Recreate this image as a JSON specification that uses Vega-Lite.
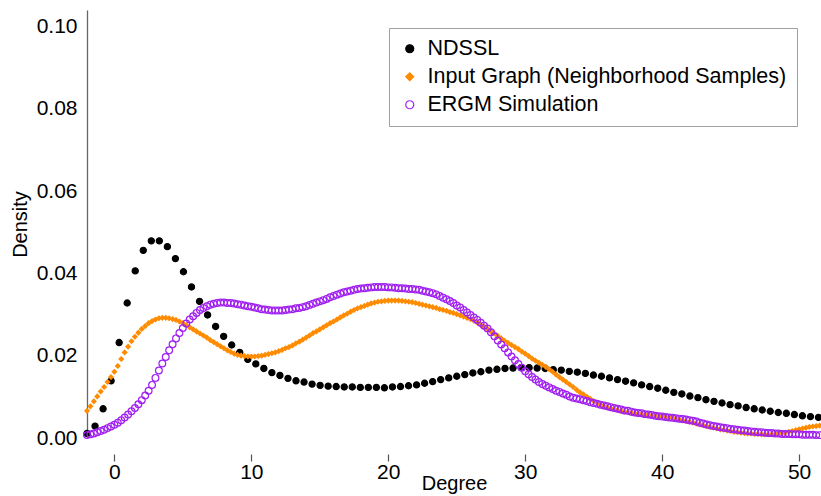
{
  "$schema": "https://vega.github.io/schema/vega-lite/v6.json",
  "autosize": {"type": "none"},
  "padding": {"left": 87, "top": 10, "right": 0, "bottom": 58},
  "width": 734,
  "height": 428,
  "background": "white",
  "datasets": {
    "nd": [
      {"x":-2.000,"y":0.0011},{"x":-1.413,"y":0.0029},{"x":-0.826,"y":0.0071},{"x":-0.239,"y":0.0139},{"x":0.348,"y":0.0232},{"x":0.935,"y":0.0328},{"x":1.522,"y":0.0406},{"x":2.109,"y":0.0456},{"x":2.696,"y":0.0479},{"x":3.283,"y":0.0479},
      {"x":3.870,"y":0.0465},{"x":4.457,"y":0.0436},{"x":5.044,"y":0.0404},{"x":5.631,"y":0.0367},{"x":6.218,"y":0.0332},{"x":6.805,"y":0.0299},{"x":7.392,"y":0.0271},{"x":7.979,"y":0.0247},{"x":8.566,"y":0.0226},{"x":9.153,"y":0.0208},
      {"x":9.740,"y":0.0191},{"x":10.327,"y":0.0180},{"x":10.914,"y":0.0169},{"x":11.501,"y":0.0159},{"x":12.088,"y":0.0152},{"x":12.675,"y":0.0145},{"x":13.262,"y":0.0139},{"x":13.849,"y":0.0136},{"x":14.436,"y":0.0131},{"x":15.023,"y":0.0128},
      {"x":15.610,"y":0.0126},{"x":16.197,"y":0.0125},{"x":16.784,"y":0.0124},{"x":17.371,"y":0.0124},{"x":17.958,"y":0.0123},{"x":18.545,"y":0.0123},{"x":19.132,"y":0.0123},{"x":19.719,"y":0.0122},{"x":20.306,"y":0.0124},{"x":20.893,"y":0.0125},
      {"x":21.480,"y":0.0127},{"x":22.067,"y":0.0129},{"x":22.654,"y":0.0133},{"x":23.241,"y":0.0137},{"x":23.828,"y":0.0142},{"x":24.415,"y":0.0146},{"x":25.002,"y":0.0150},{"x":25.589,"y":0.0154},{"x":26.176,"y":0.0158},{"x":26.763,"y":0.0161},
      {"x":27.350,"y":0.0165},{"x":27.937,"y":0.0167},{"x":28.524,"y":0.0169},{"x":29.111,"y":0.0170},{"x":29.698,"y":0.0171},{"x":30.285,"y":0.0171},{"x":30.872,"y":0.0170},{"x":31.459,"y":0.0169},{"x":32.046,"y":0.0166},{"x":32.633,"y":0.0165},
      {"x":33.220,"y":0.0162},{"x":33.807,"y":0.0160},{"x":34.394,"y":0.0157},{"x":34.981,"y":0.0153},{"x":35.568,"y":0.0150},{"x":36.155,"y":0.0146},{"x":36.742,"y":0.0142},{"x":37.329,"y":0.0138},{"x":37.916,"y":0.0134},{"x":38.503,"y":0.0129},
      {"x":39.090,"y":0.0125},{"x":39.677,"y":0.0121},{"x":40.264,"y":0.0116},{"x":40.851,"y":0.0111},{"x":41.438,"y":0.0107},{"x":42.025,"y":0.0102},{"x":42.612,"y":0.0098},{"x":43.199,"y":0.0093},{"x":43.786,"y":0.0089},{"x":44.373,"y":0.0085},
      {"x":44.960,"y":0.0081},{"x":45.547,"y":0.0078},{"x":46.134,"y":0.0074},{"x":46.721,"y":0.0071},{"x":47.308,"y":0.0068},{"x":47.895,"y":0.0065},{"x":48.482,"y":0.0062},{"x":49.069,"y":0.0060},{"x":49.656,"y":0.0057},{"x":50.243,"y":0.0054},
      {"x":50.830,"y":0.0052},{"x":51.417,"y":0.0050}
    ],
    "ig": [
      {"x":-2.00,"y":0.0066},{"x":-1.75,"y":0.0077},{"x":-1.50,"y":0.0089},{"x":-1.25,"y":0.0101},{"x":-1.00,"y":0.0113},{"x":-0.75,"y":0.0124},{"x":-0.50,"y":0.0136},{"x":-0.25,"y":0.0148},
      {"x":0.00,"y":0.0161},{"x":0.25,"y":0.0175},{"x":0.50,"y":0.0192},{"x":0.75,"y":0.0208},{"x":1.00,"y":0.0222},{"x":1.25,"y":0.0235},{"x":1.50,"y":0.0246},{"x":1.75,"y":0.0256},
      {"x":2.00,"y":0.0265},{"x":2.25,"y":0.0272},{"x":2.50,"y":0.0279},{"x":2.75,"y":0.0284},{"x":3.00,"y":0.0288},{"x":3.25,"y":0.0291},{"x":3.50,"y":0.0292},{"x":3.75,"y":0.0292},
      {"x":4.00,"y":0.0291},{"x":4.25,"y":0.0289},{"x":4.50,"y":0.0287},{"x":4.75,"y":0.0283},{"x":5.00,"y":0.0279},{"x":5.25,"y":0.0274},{"x":5.50,"y":0.0269},{"x":5.75,"y":0.0264},
      {"x":6.00,"y":0.0259},{"x":6.25,"y":0.0254},{"x":6.50,"y":0.0249},{"x":6.75,"y":0.0244},{"x":7.00,"y":0.0238},{"x":7.25,"y":0.0233},{"x":7.50,"y":0.0228},{"x":7.75,"y":0.0223},
      {"x":8.00,"y":0.0218},{"x":8.25,"y":0.0213},{"x":8.50,"y":0.0209},{"x":8.75,"y":0.0205},{"x":9.00,"y":0.0202},{"x":9.25,"y":0.0200},{"x":9.50,"y":0.0199},{"x":9.75,"y":0.0198},
      {"x":10.00,"y":0.0198},{"x":10.25,"y":0.0198},{"x":10.50,"y":0.0199},{"x":10.75,"y":0.0200},{"x":11.00,"y":0.0202},{"x":11.25,"y":0.0204},{"x":11.50,"y":0.0206},{"x":11.75,"y":0.0208},
      {"x":12.00,"y":0.0211},{"x":12.25,"y":0.0214},{"x":12.50,"y":0.0218},{"x":12.75,"y":0.0221},{"x":13.00,"y":0.0225},{"x":13.25,"y":0.0230},{"x":13.50,"y":0.0234},{"x":13.75,"y":0.0239},
      {"x":14.00,"y":0.0244},{"x":14.25,"y":0.0249},{"x":14.50,"y":0.0255},{"x":14.75,"y":0.0259},{"x":15.00,"y":0.0264},{"x":15.25,"y":0.0269},{"x":15.50,"y":0.0274},{"x":15.75,"y":0.0279},
      {"x":16.00,"y":0.0283},{"x":16.25,"y":0.0288},{"x":16.50,"y":0.0293},{"x":16.75,"y":0.0298},{"x":17.00,"y":0.0302},{"x":17.25,"y":0.0307},{"x":17.50,"y":0.0311},{"x":17.75,"y":0.0315},
      {"x":18.00,"y":0.0318},{"x":18.25,"y":0.0321},{"x":18.50,"y":0.0324},{"x":18.75,"y":0.0327},{"x":19.00,"y":0.0329},{"x":19.25,"y":0.0331},{"x":19.50,"y":0.0332},{"x":19.75,"y":0.0333},
      {"x":20.00,"y":0.0334},{"x":20.25,"y":0.0334},{"x":20.50,"y":0.0334},{"x":20.75,"y":0.0334},{"x":21.00,"y":0.0333},{"x":21.25,"y":0.0332},{"x":21.50,"y":0.0331},{"x":21.75,"y":0.0330},
      {"x":22.00,"y":0.0328},{"x":22.25,"y":0.0326},{"x":22.50,"y":0.0324},{"x":22.75,"y":0.0322},{"x":23.00,"y":0.0320},{"x":23.25,"y":0.0318},{"x":23.50,"y":0.0316},{"x":23.75,"y":0.0313},
      {"x":24.00,"y":0.0311},{"x":24.25,"y":0.0309},{"x":24.50,"y":0.0306},{"x":24.75,"y":0.0304},{"x":25.00,"y":0.0301},{"x":25.25,"y":0.0298},{"x":25.50,"y":0.0295},{"x":25.75,"y":0.0292},
      {"x":26.00,"y":0.0289},{"x":26.25,"y":0.0285},{"x":26.50,"y":0.0280},{"x":26.75,"y":0.0275},{"x":27.00,"y":0.0270},{"x":27.25,"y":0.0265},{"x":27.50,"y":0.0259},{"x":27.75,"y":0.0254},
      {"x":28.00,"y":0.0248},{"x":28.25,"y":0.0242},{"x":28.50,"y":0.0236},{"x":28.75,"y":0.0231},{"x":29.00,"y":0.0226},{"x":29.25,"y":0.0221},{"x":29.50,"y":0.0216},{"x":29.75,"y":0.0210},
      {"x":30.00,"y":0.0205},{"x":30.25,"y":0.0199},{"x":30.50,"y":0.0193},{"x":30.75,"y":0.0188},{"x":31.00,"y":0.0183},{"x":31.25,"y":0.0178},{"x":31.50,"y":0.0173},{"x":31.75,"y":0.0167},
      {"x":32.00,"y":0.0161},{"x":32.25,"y":0.0154},{"x":32.50,"y":0.0148},{"x":32.75,"y":0.0142},{"x":33.00,"y":0.0136},{"x":33.25,"y":0.0130},{"x":33.50,"y":0.0124},{"x":33.75,"y":0.0117},
      {"x":34.00,"y":0.0111},{"x":34.25,"y":0.0106},{"x":34.50,"y":0.0100},{"x":34.75,"y":0.0095},{"x":35.00,"y":0.0090},{"x":35.25,"y":0.0085},{"x":35.50,"y":0.0081},{"x":35.75,"y":0.0077},
      {"x":36.00,"y":0.0074},{"x":36.25,"y":0.0072},{"x":36.50,"y":0.0070},{"x":36.75,"y":0.0068},{"x":37.00,"y":0.0066},{"x":37.25,"y":0.0064},{"x":37.50,"y":0.0063},{"x":37.75,"y":0.0061},
      {"x":38.00,"y":0.0060},{"x":38.25,"y":0.0059},{"x":38.50,"y":0.0058},{"x":38.75,"y":0.0057},{"x":39.00,"y":0.0056},{"x":39.25,"y":0.0055},{"x":39.50,"y":0.0054},{"x":39.75,"y":0.0053},
      {"x":40.00,"y":0.0052},{"x":40.25,"y":0.0051},{"x":40.50,"y":0.0050},{"x":40.75,"y":0.0049},{"x":41.00,"y":0.0047},{"x":41.25,"y":0.0045},{"x":41.50,"y":0.0043},{"x":41.75,"y":0.0041},
      {"x":42.00,"y":0.0039},{"x":42.25,"y":0.0037},{"x":42.50,"y":0.0035},{"x":42.75,"y":0.0033},{"x":43.00,"y":0.0031},{"x":43.25,"y":0.0029},{"x":43.50,"y":0.0027},{"x":43.75,"y":0.0025},
      {"x":44.00,"y":0.0023},{"x":44.25,"y":0.0021},{"x":44.50,"y":0.0020},{"x":44.75,"y":0.0018},{"x":45.00,"y":0.0017},{"x":45.25,"y":0.0015},{"x":45.50,"y":0.0014},{"x":45.75,"y":0.0013},
      {"x":46.00,"y":0.0012},{"x":46.25,"y":0.0011},{"x":46.50,"y":0.0011},{"x":46.75,"y":0.0010},{"x":47.00,"y":0.0010},{"x":47.25,"y":0.0009},{"x":47.50,"y":0.0009},{"x":47.75,"y":0.0009},
      {"x":48.00,"y":0.0009},{"x":48.25,"y":0.0010},{"x":48.50,"y":0.0011},{"x":48.75,"y":0.0012},{"x":49.00,"y":0.0013},{"x":49.25,"y":0.0015},{"x":49.50,"y":0.0017},{"x":49.75,"y":0.0019},
      {"x":50.00,"y":0.0021},{"x":50.25,"y":0.0023},{"x":50.50,"y":0.0025},{"x":50.75,"y":0.0027},{"x":51.00,"y":0.0028},{"x":51.25,"y":0.0029},{"x":51.50,"y":0.0030}
    ],
    "eg": [
      {"x":-2.00,"y":0.0007},{"x":-1.75,"y":0.0009},{"x":-1.50,"y":0.0011},{"x":-1.25,"y":0.0014},{"x":-1.00,"y":0.0017},{"x":-0.75,"y":0.0020},{"x":-0.50,"y":0.0024},{"x":-0.25,"y":0.0028},
      {"x":0.00,"y":0.0032},{"x":0.25,"y":0.0037},{"x":0.50,"y":0.0043},{"x":0.75,"y":0.0050},{"x":1.00,"y":0.0057},{"x":1.25,"y":0.0065},{"x":1.50,"y":0.0073},{"x":1.75,"y":0.0082},
      {"x":2.00,"y":0.0092},{"x":2.25,"y":0.0103},{"x":2.50,"y":0.0115},{"x":2.75,"y":0.0129},{"x":3.00,"y":0.0146},{"x":3.25,"y":0.0164},{"x":3.50,"y":0.0181},{"x":3.75,"y":0.0197},
      {"x":4.00,"y":0.0213},{"x":4.25,"y":0.0228},{"x":4.50,"y":0.0242},{"x":4.75,"y":0.0255},{"x":5.00,"y":0.0267},{"x":5.25,"y":0.0278},{"x":5.50,"y":0.0288},{"x":5.75,"y":0.0296},
      {"x":6.00,"y":0.0304},{"x":6.25,"y":0.0311},{"x":6.50,"y":0.0316},{"x":6.75,"y":0.0320},{"x":7.00,"y":0.0324},{"x":7.25,"y":0.0326},{"x":7.50,"y":0.0328},{"x":7.75,"y":0.0329},
      {"x":8.00,"y":0.0329},{"x":8.25,"y":0.0328},{"x":8.50,"y":0.0328},{"x":8.75,"y":0.0327},{"x":9.00,"y":0.0325},{"x":9.25,"y":0.0324},{"x":9.50,"y":0.0322},{"x":9.75,"y":0.0320},
      {"x":10.00,"y":0.0319},{"x":10.25,"y":0.0317},{"x":10.50,"y":0.0315},{"x":10.75,"y":0.0313},{"x":11.00,"y":0.0312},{"x":11.25,"y":0.0311},{"x":11.50,"y":0.0310},{"x":11.75,"y":0.0310},
      {"x":12.00,"y":0.0310},{"x":12.25,"y":0.0310},{"x":12.50,"y":0.0311},{"x":12.75,"y":0.0312},{"x":13.00,"y":0.0313},{"x":13.25,"y":0.0315},{"x":13.50,"y":0.0316},{"x":13.75,"y":0.0318},
      {"x":14.00,"y":0.0320},{"x":14.25,"y":0.0323},{"x":14.50,"y":0.0326},{"x":14.75,"y":0.0329},{"x":15.00,"y":0.0332},{"x":15.25,"y":0.0335},{"x":15.50,"y":0.0338},{"x":15.75,"y":0.0342},
      {"x":16.00,"y":0.0345},{"x":16.25,"y":0.0348},{"x":16.50,"y":0.0351},{"x":16.75,"y":0.0354},{"x":17.00,"y":0.0356},{"x":17.25,"y":0.0358},{"x":17.50,"y":0.0360},{"x":17.75,"y":0.0362},
      {"x":18.00,"y":0.0363},{"x":18.25,"y":0.0364},{"x":18.50,"y":0.0365},{"x":18.75,"y":0.0366},{"x":19.00,"y":0.0367},{"x":19.25,"y":0.0367},{"x":19.50,"y":0.0367},{"x":19.75,"y":0.0367},
      {"x":20.00,"y":0.0366},{"x":20.25,"y":0.0366},{"x":20.50,"y":0.0365},{"x":20.75,"y":0.0364},{"x":21.00,"y":0.0364},{"x":21.25,"y":0.0363},{"x":21.50,"y":0.0362},{"x":21.75,"y":0.0362},
      {"x":22.00,"y":0.0361},{"x":22.25,"y":0.0360},{"x":22.50,"y":0.0358},{"x":22.75,"y":0.0356},{"x":23.00,"y":0.0354},{"x":23.25,"y":0.0352},{"x":23.50,"y":0.0349},{"x":23.75,"y":0.0345},
      {"x":24.00,"y":0.0341},{"x":24.25,"y":0.0337},{"x":24.50,"y":0.0333},{"x":24.75,"y":0.0328},{"x":25.00,"y":0.0322},{"x":25.25,"y":0.0317},{"x":25.50,"y":0.0311},{"x":25.75,"y":0.0305},
      {"x":26.00,"y":0.0299},{"x":26.25,"y":0.0293},{"x":26.50,"y":0.0287},{"x":26.75,"y":0.0280},{"x":27.00,"y":0.0273},{"x":27.25,"y":0.0266},{"x":27.50,"y":0.0257},{"x":27.75,"y":0.0247},
      {"x":28.00,"y":0.0237},{"x":28.25,"y":0.0227},{"x":28.50,"y":0.0218},{"x":28.75,"y":0.0208},{"x":29.00,"y":0.0198},{"x":29.25,"y":0.0189},{"x":29.50,"y":0.0180},{"x":29.75,"y":0.0171},
      {"x":30.00,"y":0.0162},{"x":30.25,"y":0.0155},{"x":30.50,"y":0.0148},{"x":30.75,"y":0.0142},{"x":31.00,"y":0.0136},{"x":31.25,"y":0.0131},{"x":31.50,"y":0.0127},{"x":31.75,"y":0.0123},
      {"x":32.00,"y":0.0119},{"x":32.25,"y":0.0115},{"x":32.50,"y":0.0112},{"x":32.75,"y":0.0108},{"x":33.00,"y":0.0105},{"x":33.25,"y":0.0101},{"x":33.50,"y":0.0098},{"x":33.75,"y":0.0096},
      {"x":34.00,"y":0.0094},{"x":34.25,"y":0.0092},{"x":34.50,"y":0.0090},{"x":34.75,"y":0.0087},{"x":35.00,"y":0.0085},{"x":35.25,"y":0.0083},{"x":35.50,"y":0.0081},{"x":35.75,"y":0.0079},
      {"x":36.00,"y":0.0077},{"x":36.25,"y":0.0075},{"x":36.50,"y":0.0073},{"x":36.75,"y":0.0071},{"x":37.00,"y":0.0069},{"x":37.25,"y":0.0067},{"x":37.50,"y":0.0066},{"x":37.75,"y":0.0064},
      {"x":38.00,"y":0.0062},{"x":38.25,"y":0.0061},{"x":38.50,"y":0.0060},{"x":38.75,"y":0.0058},{"x":39.00,"y":0.0057},{"x":39.25,"y":0.0056},{"x":39.50,"y":0.0054},{"x":39.75,"y":0.0053},
      {"x":40.00,"y":0.0052},{"x":40.25,"y":0.0051},{"x":40.50,"y":0.0050},{"x":40.75,"y":0.0049},{"x":41.00,"y":0.0048},{"x":41.25,"y":0.0047},{"x":41.50,"y":0.0046},{"x":41.75,"y":0.0045},
      {"x":42.00,"y":0.0043},{"x":42.25,"y":0.0042},{"x":42.50,"y":0.0040},{"x":42.75,"y":0.0037},{"x":43.00,"y":0.0035},{"x":43.25,"y":0.0033},{"x":43.50,"y":0.0031},{"x":43.75,"y":0.0029},
      {"x":44.00,"y":0.0028},{"x":44.25,"y":0.0026},{"x":44.50,"y":0.0025},{"x":44.75,"y":0.0024},{"x":45.00,"y":0.0022},{"x":45.25,"y":0.0021},{"x":45.50,"y":0.0020},{"x":45.75,"y":0.0019},
      {"x":46.00,"y":0.0018},{"x":46.25,"y":0.0017},{"x":46.50,"y":0.0016},{"x":46.75,"y":0.0015},{"x":47.00,"y":0.0014},{"x":47.25,"y":0.0014},{"x":47.50,"y":0.0013},{"x":47.75,"y":0.0012},
      {"x":48.00,"y":0.0012},{"x":48.25,"y":0.0011},{"x":48.50,"y":0.0011},{"x":48.75,"y":0.0010},{"x":49.00,"y":0.0010},{"x":49.25,"y":0.0010},{"x":49.50,"y":0.0009},{"x":49.75,"y":0.0009},
      {"x":50.00,"y":0.0009},{"x":50.25,"y":0.0008},{"x":50.50,"y":0.0008},{"x":50.75,"y":0.0008},{"x":51.00,"y":0.0008},{"x":51.25,"y":0.0007},{"x":51.50,"y":0.0007}
    ]
  },
  "layer": [
    {
      "mark": {"type": "rule", "color": "#bdbdbd", "strokeWidth": 1.5},
      "encoding": {
        "y": {"datum": 0, "type": "quantitative", "title": "Density", "scale": {"domain": [0, 0.104], "nice": false, "zero": false}, "axis": {"values": [0, 0.02, 0.04, 0.06, 0.08, 0.1], "format": ".2f"}}
      }
    },
    {
      "mark": {"type": "rule", "color": "#555555", "strokeWidth": 1.2},
      "encoding": {
        "x": {"datum": 0, "type": "quantitative", "title": "Degree", "scale": {"domain": [-2.0, 51.6], "nice": false, "zero": false}, "axis": {"values": [0, 10, 20, 30, 40, 50]}},
        "x2": {"datum": 50},
        "y": {"datum": -0.0039, "type": "quantitative", "title": "Density", "scale": {"domain": [0, 0.104], "nice": false, "zero": false}, "axis": {"values": [0, 0.02, 0.04, 0.06, 0.08, 0.1], "format": ".2f"}}
      }
    },
    {
      "data": {"name": "nd"},
      "mark": {"type": "point", "size": 38, "strokeWidth": 1.2, "opacity": 1},
      "encoding": {
        "x": {"field": "x", "type": "quantitative", "title": "Degree", "scale": {"domain": [-2.0, 51.6], "nice": false, "zero": false}, "axis": {"values": [0, 10, 20, 30, 40, 50]}},
        "y": {"field": "y", "type": "quantitative", "title": "Density", "scale": {"domain": [0, 0.104], "nice": false, "zero": false}, "axis": {"values": [0, 0.02, 0.04, 0.06, 0.08, 0.1], "format": ".2f"}},
        "fill": {"datum": "NDSSL", "title": null, "scale": {"domain": ["NDSSL", "Input Graph (Neighborhood Samples)", "ERGM Simulation"], "range": ["#000000", "#FF8C00", "transparent"]}},
        "stroke": {"datum": "NDSSL", "title": null, "scale": {"domain": ["NDSSL", "Input Graph (Neighborhood Samples)", "ERGM Simulation"], "range": ["#000000", "#FF8C00", "#A020F0"]}},
        "shape": {"datum": "NDSSL", "title": null, "scale": {"domain": ["NDSSL", "Input Graph (Neighborhood Samples)", "ERGM Simulation"], "range": ["circle", "diamond", "circle"]}}
      }
    },
    {
      "data": {"name": "ig"},
      "mark": {"type": "point", "size": 20, "strokeWidth": 1.2, "opacity": 1},
      "encoding": {
        "x": {"field": "x", "type": "quantitative", "title": "Degree", "scale": {"domain": [-2.0, 51.6], "nice": false, "zero": false}, "axis": {"values": [0, 10, 20, 30, 40, 50]}},
        "y": {"field": "y", "type": "quantitative", "title": "Density", "scale": {"domain": [0, 0.104], "nice": false, "zero": false}, "axis": {"values": [0, 0.02, 0.04, 0.06, 0.08, 0.1], "format": ".2f"}},
        "fill": {"datum": "Input Graph (Neighborhood Samples)", "title": null, "scale": {"domain": ["NDSSL", "Input Graph (Neighborhood Samples)", "ERGM Simulation"], "range": ["#000000", "#FF8C00", "transparent"]}},
        "stroke": {"datum": "Input Graph (Neighborhood Samples)", "title": null, "scale": {"domain": ["NDSSL", "Input Graph (Neighborhood Samples)", "ERGM Simulation"], "range": ["#000000", "#FF8C00", "#A020F0"]}},
        "shape": {"datum": "Input Graph (Neighborhood Samples)", "title": null, "scale": {"domain": ["NDSSL", "Input Graph (Neighborhood Samples)", "ERGM Simulation"], "range": ["circle", "diamond", "circle"]}}
      }
    },
    {
      "data": {"name": "eg"},
      "mark": {"type": "point", "size": 46, "strokeWidth": 1.2, "opacity": 1},
      "encoding": {
        "x": {"field": "x", "type": "quantitative", "title": "Degree", "scale": {"domain": [-2.0, 51.6], "nice": false, "zero": false}, "axis": {"values": [0, 10, 20, 30, 40, 50]}},
        "y": {"field": "y", "type": "quantitative", "title": "Density", "scale": {"domain": [0, 0.104], "nice": false, "zero": false}, "axis": {"values": [0, 0.02, 0.04, 0.06, 0.08, 0.1], "format": ".2f"}},
        "fill": {"datum": "ERGM Simulation", "title": null, "scale": {"domain": ["NDSSL", "Input Graph (Neighborhood Samples)", "ERGM Simulation"], "range": ["#000000", "#FF8C00", "transparent"]}},
        "stroke": {"datum": "ERGM Simulation", "title": null, "scale": {"domain": ["NDSSL", "Input Graph (Neighborhood Samples)", "ERGM Simulation"], "range": ["#000000", "#FF8C00", "#A020F0"]}},
        "shape": {"datum": "ERGM Simulation", "title": null, "scale": {"domain": ["NDSSL", "Input Graph (Neighborhood Samples)", "ERGM Simulation"], "range": ["circle", "diamond", "circle"]}}
      }
    }
  ],
  "config": {
    "view": {"stroke": null},
    "font": "Liberation Sans",
    "axis": {
      "grid": false,
      "labelFont": "Liberation Sans",
      "labelFontSize": 21,
      "labelColor": "#000000",
      "titleFont": "Liberation Sans",
      "titleFontSize": 20,
      "titleFontWeight": "normal",
      "titleColor": "#000000",
      "labelFlush": false,
      "labelOverlap": false
    },
    "axisX": {
      "domain": false,
      "ticks": true,
      "tickSize": 7,
      "tickColor": "#555555",
      "tickWidth": 1.2,
      "offset": 16,
      "labelPadding": 0,
      "titlePadding": -9
    },
    "axisY": {
      "domain": true,
      "domainColor": "#666666",
      "domainWidth": 1.3,
      "ticks": false,
      "labelPadding": 10,
      "titlePadding": 6
    },
    "legend": {
      "orient": "none",
      "legendX": 302,
      "legendY": 18,
      "padding": 10,
      "strokeColor": "#a0a0a0",
      "fillColor": "#ffffff",
      "labelFont": "Liberation Sans",
      "labelFontSize": 21.5,
      "labelColor": "#000000",
      "labelLimit": 500,
      "labelOffset": 7,
      "rowPadding": 5,
      "symbolSize": 64,
      "symbolStrokeWidth": 1.2,
      "symbolOpacity": 1
    }
  }
}
